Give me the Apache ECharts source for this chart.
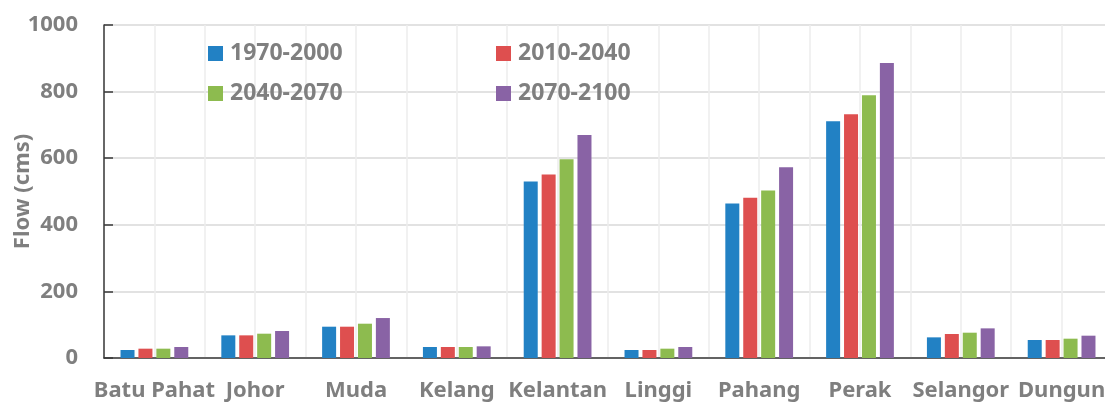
<!DOCTYPE html>
<html>
<head>
<meta charset="utf-8">
<script src="https://cdn.jsdelivr.net/npm/echarts@6/dist/echarts.min.js"></script>
<style>
  html, body { margin: 0; padding: 0; background: #fff; }
  #chart { width: 1105px; height: 405px; }
</style>
</head>
<body>
<div id="chart"></div>
<script>
// rivers along the x axis
const rivers = ['Batu Pahat', 'Johor', 'Muda', 'Kelang', 'Kelantan', 'Linggi', 'Pahang', 'Perak', 'Selangor', 'Dungun'];
const periods = ['1970-2000', '2010-2040', '2040-2070', '2070-2100'];

// mean flow (cms) per period
const flow1970 = [24, 68, 94, 33, 530, 24, 464, 711, 62, 54];
const flow2010 = [28, 68, 94, 33, 551, 24, 481, 732, 72, 54];
const flow2040 = [28, 73, 103, 33, 597, 28, 503, 789, 76, 58];
const flow2070 = [33, 81, 120, 35, 670, 33, 573, 886, 89, 67];

const yTicks = [0, 200, 400, 600, 800, 1000];

const colors = ['#2281c4', '#de4f4f', '#8dbb4f', '#8963a5'];
const grey = '#7f7f7f';
const font = 'Noto Sans';

const chart = echarts.init(document.getElementById('chart'), null, { renderer: 'canvas' });

const seriesData = [flow1970, flow2010, flow2040, flow2070];

const legendStyle = {
  orient: 'vertical',
  top: 37,
  itemWidth: 15,
  itemHeight: 15,
  itemGap: 17,
  icon: 'rect',
  textStyle: { color: grey, fontFamily: font, fontWeight: 'bold', fontSize: 23, lineHeight: 23, padding: [0, 0, 0, 2] }
};

const option = {
  animation: false,
  color: colors,
  grid: { left: 104, right: -7, top: 25, bottom: 47, containLabel: false, outerBoundsMode: 'none' },
  legend: [
    Object.assign({ left: 203, data: [periods[0], periods[2]] }, legendStyle),
    Object.assign({ left: 491, data: [periods[1], periods[3]] }, legendStyle)
  ],
  xAxis: [
    {
      type: 'category',
      data: rivers,
      axisLine: { lineStyle: { color: '#3a3a3a', width: 1.5 } },
      axisTick: { length: 8, lineStyle: { color: '#3a3a3a', width: 1.5 } },
      axisLabel: { color: grey, fontFamily: font, fontWeight: 'bold', fontSize: 22, margin: 22, interval: 0 },
      splitLine: { show: false }
    },
    {
      // only for the light vertical gridlines (every half category)
      type: 'value',
      min: 0,
      max: rivers.length,
      interval: 0.5,
      position: 'bottom',
      axisLine: { show: false },
      axisTick: { show: false },
      axisLabel: { show: false },
      splitLine: { show: true, lineStyle: { color: '#ececec', width: 1.5 } }
    }
  ],
  yAxis: {
    type: 'value',
    min: yTicks[0],
    max: yTicks[yTicks.length - 1],
    interval: 200,
    name: 'Flow (cms)',
    nameLocation: 'middle',
    nameGap: 70,
    nameMoveOverlap: false,
    nameTextStyle: { color: grey, fontFamily: font, fontWeight: 'bold', fontSize: 22 },
    axisLine: { show: true, lineStyle: { color: '#3a3a3a', width: 1.5 } },
    axisTick: { show: true, inside: true, length: 9, lineStyle: { color: '#3a3a3a', width: 1.5 } },
    axisLabel: { color: grey, fontFamily: font, fontWeight: 'bold', fontSize: 22, margin: 26, formatter: v => String(v) },
    splitLine: { lineStyle: { color: '#d9d9d9', width: 1.5 } }
  },
  series: periods.map((p, i) => ({
    name: p,
    type: 'bar',
    xAxisIndex: 0,
    data: seriesData[i],
    barWidth: 14,
    barGap: '28%',
    itemStyle: { color: colors[i] }
  }))
};

chart.setOption(option);
</script>
</body>
</html>
